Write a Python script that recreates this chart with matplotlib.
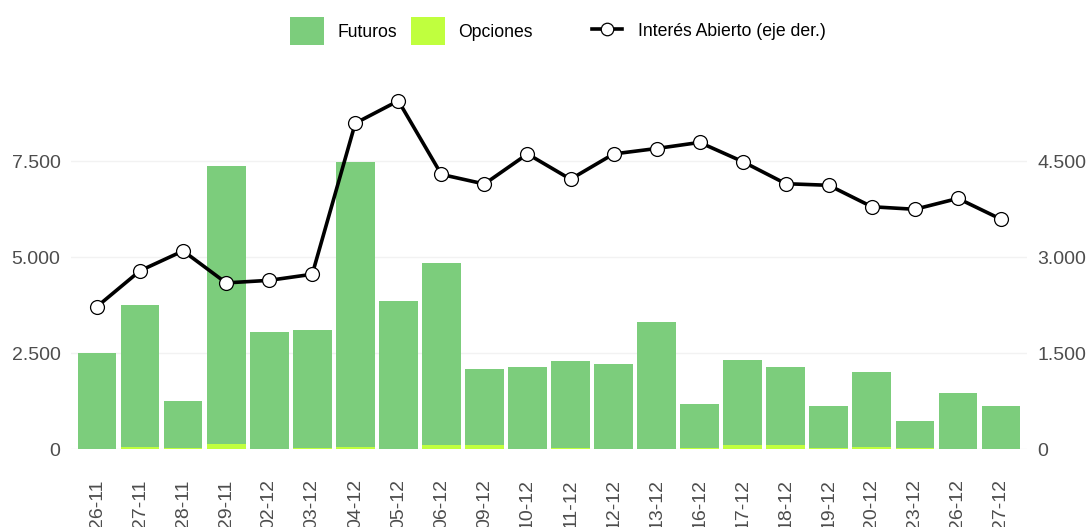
import matplotlib
matplotlib.use("Agg")
import matplotlib.pyplot as plt
from matplotlib.patches import Patch
from matplotlib.lines import Line2D
from matplotlib.ticker import FuncFormatter
import numpy as np

# data
fechas = ["26-11", "27-11", "28-11", "29-11", "02-12", "03-12", "04-12", "05-12",
          "06-12", "09-12", "10-12", "11-12", "12-12", "13-12", "16-12", "17-12",
          "18-12", "19-12", "20-12", "23-12", "26-12", "27-12"]
total = [2500, 3750, 1250, 7370, 3045, 3110, 7480, 3850,
         4850, 2090, 2150, 2300, 2230, 3320, 1180, 2325,
         2135, 1125, 2010, 735, 1455, 1125]
opciones = [10, 60, 25, 130, 0, 25, 60, 10,
            100, 100, 10, 25, 10, 10, 30, 100,
            100, 35, 60, 25, 0, 10]
futuros = [t - o for t, o in zip(total, opciones)]
interes_abierto = [2230, 2790, 3100, 2600, 2640, 2735, 5095, 5445,
                   4295, 4145, 4615, 4220, 4615, 4700, 4795, 4495,
                   4150, 4125, 3790, 3750, 3920, 3595]

C_FUT = "#7CCD7C"
C_OPC = "#C0FF3E"
TXT = "#4d4d4d"

plt.rcParams["font.family"] = ["Liberation Sans", "DejaVu Sans"]

fig = plt.figure(figsize=(10.91, 5.27), dpi=100)
W, H = 1091, 527
left, right, bottom, top = 71, 1027, 449.3, 90
ax = fig.add_axes([left / W, 1 - bottom / H, (right - left) / W, (bottom - top) / H])

x = np.arange(len(fechas))
ax.bar(x, opciones, width=0.9, color=C_OPC, linewidth=0)
ax.bar(x, futuros, width=0.9, bottom=opciones, color=C_FUT, linewidth=0)

y1_top = (bottom - top) / 0.0384
ax.set_ylim(0, y1_top)
ax.set_xlim(-0.604, len(fechas) - 1 + 0.604)
ax.set_yticks([0, 2500, 5000, 7500])
ax.yaxis.grid(True, color="#f2f2f2", linewidth=1.0)
ax.set_axisbelow(True)

fmt = FuncFormatter(lambda v, p: f"{int(v):,}".replace(",", "."))
ax.yaxis.set_major_formatter(fmt)
ax.set_xticks(x)
ax.set_xticklabels(fechas, rotation=90, va="top")
ax.tick_params(axis="y", length=0, pad=7.5, labelsize=14, labelcolor=TXT)
ax.tick_params(axis="x", length=0, pad=21.5, labelsize=14, labelcolor=TXT)
for s in ax.spines.values():
    s.set_visible(False)

ax2 = ax.twinx()
ax2.plot(x, interes_abierto, color="black", linewidth=2.6, marker="o",
         markersize=10, markerfacecolor="white", markeredgecolor="black",
         markeredgewidth=0.9, zorder=5)
ax2.set_ylim(0, y1_top * 0.6)
ax2.set_yticks([0, 1500, 3000, 4500])
ax2.yaxis.set_major_formatter(fmt)
ax2.tick_params(axis="y", length=0, pad=7.5, labelsize=14, labelcolor=TXT)
for s in ax2.spines.values():
    s.set_visible(False)

# legends (two groups, like the original)
h1 = [Patch(facecolor=C_FUT, edgecolor="none"), Patch(facecolor=C_OPC, edgecolor="none")]
fig.legend(h1, ["Futuros", "Opciones"], loc="center", ncol=2,
           bbox_to_anchor=(411.5 / W, 1 - 31 / H), frameon=False,
           fontsize=12.7, handlelength=1.93, handleheight=2.1,
           handletextpad=0.74, columnspacing=0.8, borderpad=0)
h2 = [Line2D([0], [0], color="black", linewidth=2.6, marker="o", markersize=9,
             markerfacecolor="white", markeredgecolor="black", markeredgewidth=0.9)]
fig.legend(h2, ["Interés Abierto (eje der.)"], loc="center",
           bbox_to_anchor=(709 / W, 1 - 31 / H), frameon=False,
           fontsize=12.7, handlelength=1.7, handletextpad=0.94, borderpad=0)

fig.savefig("out.png", dpi=100)
